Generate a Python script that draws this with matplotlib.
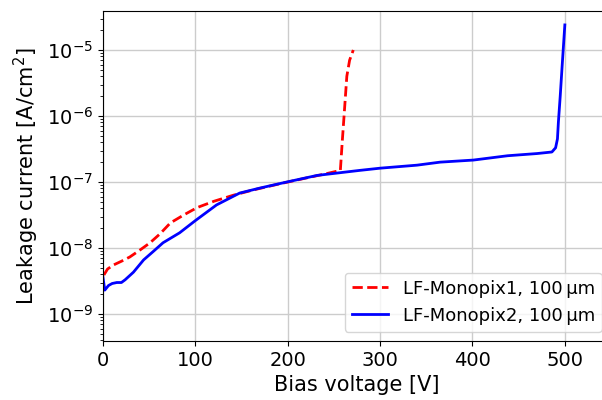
import matplotlib
matplotlib.use("Agg")
import matplotlib.pyplot as plt

# LF-Monopix1 IV curve (100 um thick sensor)
v_mp1 = [1, 5, 11, 20, 29, 40, 51, 62, 73, 88, 102, 120, 141, 163, 190, 220, 240, 257, 259, 261, 264, 267, 271]
i_mp1 = [3.9e-9, 4.8e-9, 5.5e-9, 6.3e-9, 7.3e-9, 9.3e-9, 1.2e-8, 1.65e-8, 2.4e-8, 3.2e-8, 4.1e-8, 5.1e-8,
         6.3e-8, 7.6e-8, 9.3e-8, 1.15e-7, 1.32e-7, 1.5e-7, 4e-7, 1e-6, 4e-6, 7e-6, 1e-5]

# LF-Monopix2 IV curve (100 um thick sensor)
v_mp2 = [0, 2, 6, 10, 15, 20, 24, 33, 44, 55, 65, 83, 100, 123, 148, 170, 199, 232, 278, 300, 340,
         365, 401, 438, 470, 486, 490, 492, 493, 495, 497, 500]
i_mp2 = [3.6e-9, 2.3e-9, 2.7e-9, 2.9e-9, 3.0e-9, 3.0e-9, 3.3e-9, 4.3e-9, 6.6e-9, 9.0e-9, 1.2e-8, 1.7e-8,
         2.6e-8, 4.5e-8, 6.8e-8, 8.1e-8, 1.0e-7, 1.26e-7, 1.5e-7, 1.62e-7, 1.8e-7, 2.0e-7, 2.15e-7,
         2.5e-7, 2.7e-7, 2.85e-7, 3.3e-7, 4.5e-7, 8e-7, 2e-6, 5.5e-6, 2.4e-5]

fig = plt.figure(figsize=(6.02, 4.0), dpi=100)
ax = fig.add_axes([0.171, 0.1475, 0.844, 0.825])

ax.plot(v_mp1, i_mp1, "r--", lw=2, label="LF-Monopix1, 100\u2009µm")
ax.plot(v_mp2, i_mp2, "b-", lw=2, label="LF-Monopix2, 100\u2009µm")

ax.set_yscale("log")
ax.set_xlim(0, 550)
ax.set_ylim(3.9e-10, 3.9e-5)
ax.grid(True, which="major", color="#cccccc", lw=1)
ax.tick_params(labelsize=14)
ax.set_xlabel("Bias voltage [V]", fontsize=15)
ax.set_ylabel(r"Leakage current [A/cm$^2$]", fontsize=15)
ax.legend(loc="lower right", fontsize=13)

fig.savefig("out.png", dpi=100)
